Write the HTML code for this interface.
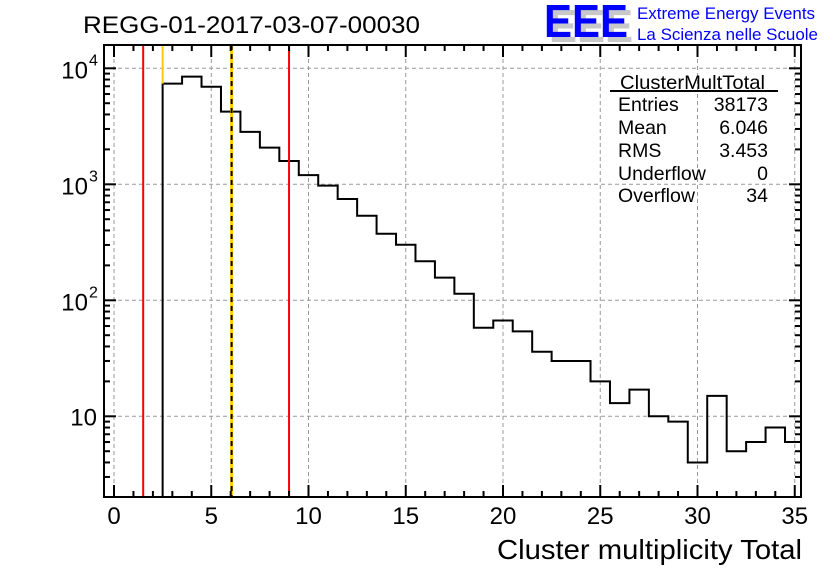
<!DOCTYPE html>
<html><head><meta charset="utf-8"><style>
body{margin:0;background:#fff;}
svg{display:block;font-family:"Liberation Sans",sans-serif;}
</style></head><body>
<svg id="chart" width="836" height="572" viewBox="0 0 836 572" xmlns="http://www.w3.org/2000/svg">
<rect width="836" height="572" fill="#fff"/>
<text x="83" y="33" font-size="24" fill="#000" textLength="337" lengthAdjust="spacingAndGlyphs">REGG-01-2017-03-07-00030</text>
<g>
<text x="549" y="42" font-size="46" font-weight="bold" fill="#c8c8c8" textLength="84" lengthAdjust="spacingAndGlyphs">EEE</text>
<text x="544" y="37" font-size="46" font-weight="bold" fill="#0000ff" textLength="84" lengthAdjust="spacingAndGlyphs">EEE</text>
<text x="637" y="19" font-size="17" fill="#0000ff" textLength="178" lengthAdjust="spacingAndGlyphs">Extreme Energy Events</text>
<text x="637" y="40" font-size="17" fill="#0000ff" textLength="181" lengthAdjust="spacingAndGlyphs">La Scienza nelle Scuole</text>
</g>
<g id="grid"></g>
<g id="marks"></g>
<g id="axes"></g>
<g font-size="19.5" fill="#000">
<text x="620" y="89" textLength="145" lengthAdjust="spacingAndGlyphs">ClusterMultTotal</text>
<line x1="610" y1="91" x2="778" y2="91" stroke="#000" stroke-width="2"/>
<text x="618" y="111">Entries</text><text x="768" y="111" text-anchor="end">38173</text>
<text x="618" y="134">Mean</text><text x="768" y="134" text-anchor="end">6.046</text>
<text x="618" y="157">RMS</text><text x="768" y="157" text-anchor="end">3.453</text>
<text x="618" y="180">Underflow</text><text x="768" y="180" text-anchor="end">0</text>
<text x="618" y="202">Overflow</text><text x="768" y="202" text-anchor="end">34</text>
</g>
<text x="802" y="559" text-anchor="end" font-size="28" fill="#000" textLength="305" lengthAdjust="spacingAndGlyphs">Cluster multiplicity Total</text>
</svg>
<script>
const binCenters = [3,4,5,6,7,8,9,10,11,12,13,14,15,16,17,18,19,20,21,22,23,24,25,26,27,28,29,30,31,32,33,34,35];
const counts = [7370,8470,6930,4230,2830,2070,1590,1200,973,747,536,375,301,217,157,114,58,67,54,36,30,30,20,13,17,10,9,4,15,5,6,8,6];
const xTicks = [0,5,10,15,20,25,30,35];
const yTicks = [10,100,1000,10000];
const yTickExp = ["","2","3","4"];
const cutLines = [1.5, 9];
const startLine = [2.5];
const meanValue = [6.046];

const L=104,R=801,T=45,B=497;
const X=v=>114+v*19.45;
const Y=v=>68.3+(4-Math.log10(v))*116;
const NS="http://www.w3.org/2000/svg";
function mk(tag,attrs,parent){const e=document.createElementNS(NS,tag);for(const k in attrs)e.setAttribute(k,attrs[k]);parent.appendChild(e);return e;}
const grid=document.getElementById('grid'),marks=document.getElementById('marks'),axes=document.getElementById('axes');

xTicks.forEach(t=>{
  const l=mk('line',{x1:X(t),x2:X(t),y1:T,y2:B,stroke:'#999','stroke-dasharray':'4,3','stroke-width':1},grid);
  
  
});
yTicks.forEach(t=>{
  const l=mk('line',{x1:L,x2:R,y1:Y(t),y2:Y(t),stroke:'#999','stroke-dasharray':'4,3','stroke-width':1},grid);
  
  
});

let d='M'+X(binCenters[0]-0.5)+','+B;
binCenters.forEach((c,i)=>{
  const y=Y(counts[i]);
  d+=' L'+X(c-0.5)+','+y+' L'+Math.min(X(c+0.5),R)+','+y;
});
const h=mk('path',{d:d,fill:'none',stroke:'#000','stroke-width':2},marks);



cutLines.forEach(v=>{
  const l=mk('line',{x1:X(v),x2:X(v),y1:T,y2:B,stroke:'#ff0000','stroke-width':2},marks);
  
  
});
startLine.forEach(v=>{
  const l=mk('line',{x1:X(v),x2:X(v),y1:T,y2:Y(counts[0]),stroke:'#ffcc00','stroke-width':2},marks);
  
  
});
meanValue.forEach(v=>{
  const a=mk('line',{x1:X(v),x2:X(v),y1:T,y2:B,stroke:'#ffcc00','stroke-width':3},marks);
  
  
  const b=mk('line',{x1:X(v),x2:X(v),y1:T,y2:B,stroke:'#000','stroke-width':2,'stroke-dasharray':'5,4'},marks);
  
  
});

const fr=mk('rect',{x:L,y:T,width:R-L,height:B-T,fill:'none',stroke:'#000','stroke-width':2},axes);



for(let v=0;v<=35;v++){
  const len=v%5===0?12:6;
  mk('line',{x1:X(v),x2:X(v),y1:B,y2:B-len,stroke:'#000','stroke-width':2},axes);
  mk('line',{x1:X(v),x2:X(v),y1:T,y2:T+len,stroke:'#000','stroke-width':2},axes);
}
xTicks.forEach(t=>{
  const tx=mk('text',{x:X(t),y:524,'text-anchor':'middle','font-size':24,fill:'#000'},axes);
  tx.textContent=t;
  
  
});
for(let e=0;e<=4;e++){
  for(let m=1;m<=9;m++){
    const v=m*Math.pow(10,e);
    const y=Y(v);
    if(y<T||y>B)continue;
    const len=m===1?12:6;
    mk('line',{x1:L,x2:L+len,y1:y,y2:y,stroke:'#000','stroke-width':2},axes);
    mk('line',{x1:R,x2:R-len,y1:y,y2:y,stroke:'#000','stroke-width':2},axes);
  }
}
yTicks.forEach((t,i)=>{
  const g=mk('g',{},axes);
  
  
  if(yTickExp[i]){
    const a=mk('text',{x:88,y:Y(t)+10,'text-anchor':'end','font-size':24,fill:'#000'},g);
    a.textContent='10';
    const b=mk('text',{x:89,y:Y(t)-3,'font-size':16,fill:'#000'},g);
    b.textContent=yTickExp[i];
  } else {
    const a=mk('text',{x:97,y:Y(t)+9,'text-anchor':'end','font-size':24,fill:'#000'},g);
    a.textContent='10';
  }
});
</script>
</body></html>
